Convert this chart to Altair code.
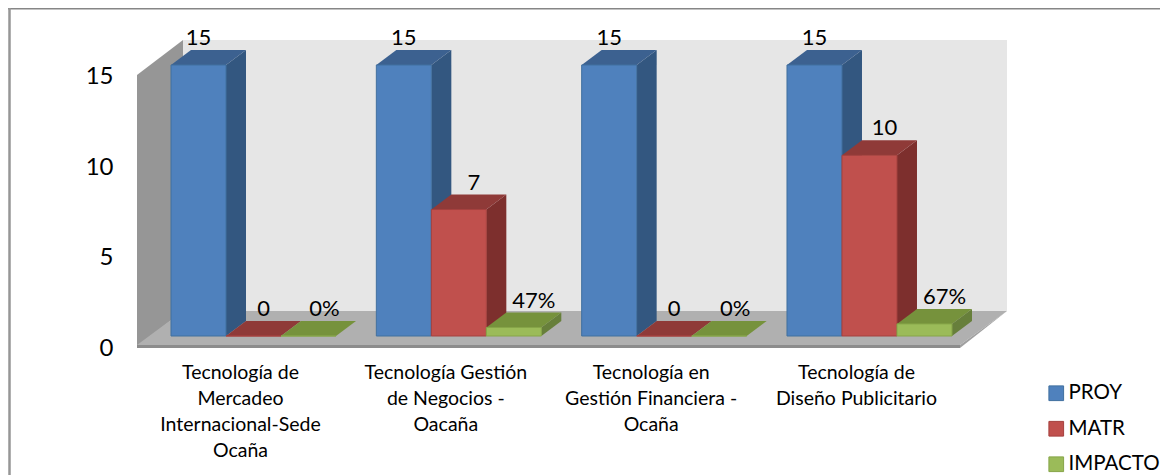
import json
import altair as alt
import pandas as pd

# ---- values ----
categories = [
    ["Tecnología de", "Mercadeo", "Internacional-Sede", "Ocaña"],
    ["Tecnología Gestión", "de Negocios -", "Oacaña"],
    ["Tecnología en", "Gestión  Financiera -", "Ocaña"],
    ["Tecnología de", "Diseño Publicitario"],
]
series = ["PROY", "MATR", "IMPACTO"]
proy = [15, 15, 15, 15]
matr = [0, 7, 0, 10]
impacto = [0, 0.47, 0, 0.67]
labels_proy = ["15", "15", "15", "15"]
labels_matr = ["0", "7", "0", "10"]
labels_impacto = ["0%", "47%", "0%", "67%"]

front = ["#4F81BD", "#C0504D", "#9BBB59"]
edge = ["#41709F", "#A5413E", "#86A548"]
side = ["#335780", "#7D2F2D", "#677F3B"]
top = ["#3C6190", "#8F3A38", "#76923C"]

# ---- layout ----
FRAME_L, FRAME_T, FRAME_R, FRAME_B = 8, 8, 1160, 475
W, H = FRAME_R - FRAME_L, FRAME_B - FRAME_T
STEP, CAT0 = 205.33, 240.0        # px per category, px of first category
UNIT, ZERO = 18.067, 336.0        # px per value unit, px of value 0
BAR, LEFT = 55 / STEP, -69 / STEP
DX, DY = 20 / STEP, 15 / UNIT


def gx(px):
    return (px - CAT0) / STEP


def gy(py):
    return (ZERO - py) / UNIT


xscale = alt.Scale(domain=[gx(FRAME_L), gx(FRAME_R)], nice=False, zero=False)
yscale = alt.Scale(domain=[gy(FRAME_B), gy(FRAME_T)], nice=False, zero=False)
FONT = "Lato"

x_axis = alt.Axis(
    values=[0, 1, 2, 3],
    labelExpr=json.dumps(categories, ensure_ascii=False) + "[datum.value]",
    domain=False, ticks=False, grid=False, tickSize=0,
    labelPadding=-112, labelFontSize=19.5, labelFont=FONT, labelColor="#000000",
    labelLineHeight=26.3, labelBaseline="top", labelOverlap=False, labelFlush=False,
)
y_axis = alt.Axis(
    values=[0, 5, 10, 15],
    domain=False, ticks=False, grid=False, tickSize=0,
    labelPadding=-105, labelFontSize=24, labelFont=FONT, labelColor="#000000",
    labelOffset=12, labelOverlap=False, labelFlush=False,
)


def X():
    return alt.X("x:Q", scale=xscale, axis=x_axis, title=None)


def Y():
    return alt.Y("y:Q", scale=yscale, axis=y_axis, title=None, stack=None)


def panel(xs, ys, y2s, color):
    df = pd.DataFrame({"x": [gx(v) for v in xs], "y": [gy(v) for v in ys], "y2": [gy(v) for v in y2s]})
    return alt.Chart(df).mark_area(color=color, orient="vertical").encode(x=X(), y=Y(), y2=alt.Y2("y2:Q"))


# ---- the 3D room ----
back_wall = panel([183, 1007], [40, 40], [311, 311], "#E6E6E6")
left_wall = panel([137, 183], [75, 40], [347, 311], "#969696")
floor = panel([137, 183, 960, 1007], [345, 311, 311, 311], [345, 345, 345, 311], "#B0B0B0")
floor_edge = panel([137, 960], [345, 345], [348, 348], "#8C8C8C")
floor_side = panel([960, 1007], [345, 311], [348, 311], "#A0A0A0")
layers = [back_wall, left_wall, floor, floor_side, floor_edge]

# ---- the chart frame: only its top and left edges show ----
frame_top = alt.Chart(pd.DataFrame({"a": [0]})).mark_rule(color="#868686", strokeWidth=1.5).encode(
    x=alt.value(0), x2=alt.value(W), y=alt.value(0.8)
)
frame_left = alt.Chart(pd.DataFrame({"a": [0]})).mark_rule(color="#969696", strokeWidth=2.5).encode(
    x=alt.value(1.5), y=alt.value(0), y2=alt.value(H)
)
layers += [frame_top, frame_left]

# ---- the bars ----
color = alt.Color(
    "series:N",
    scale=alt.Scale(domain=series, range=front),
    legend=alt.Legend(
        title=None, orient="none", legendX=1038, legendY=375, symbolType="square",
        symbolSize=216, symbolStrokeWidth=1, symbolOpacity=1, rowPadding=14.5,
        labelFont=FONT, labelFontSize=20.5, labelColor="#000000", labelOffset=2,
        labelLimit=200, symbolOffset=0,
    ),
)
stroke = alt.Stroke("series:N", scale=alt.Scale(domain=series, range=edge), legend=None)
label_shift = {"PROY": (0, 0), "MATR": (10, 15), "IMPACTO": (16, 20)}

text_rows = []
for j, (name, vals, labs) in enumerate(zip(series, [proy, matr, impacto], [labels_proy, labels_matr, labels_impacto])):
    sides, tops, fronts = [], [], []
    for i, v in enumerate(vals):
        xl = i + LEFT + j * BAR
        xr = xl + BAR
        sides += [
            {"id": i, "x": xr, "y": v, "y2": 0},
            {"id": i, "x": xr + DX, "y": v + DY, "y2": DY},
        ]
        tops += [
            {"id": i, "x": xl, "y": v, "y2": v},
            {"id": i, "x": xl + DX, "y": v + DY, "y2": v},
            {"id": i, "x": xr, "y": v + DY, "y2": v},
            {"id": i, "x": xr + DX, "y": v + DY, "y2": v + DY},
        ]
        fronts.append({"series": name, "x": xl, "x2": xr, "y": v, "y2": 0})
        shift = label_shift[name][1 if v > 0 else 0]
        text_rows.append({"x": (xl + xr) / 2 + shift / STEP, "y": v, "label": labs[i]})
    layers.append(
        alt.Chart(pd.DataFrame(sides)).mark_area(color=side[j], orient="vertical").encode(
            x=X(), y=Y(), y2=alt.Y2("y2:Q"), detail="id:N"
        )
    )
    layers.append(
        alt.Chart(pd.DataFrame(tops)).mark_area(color=top[j], orient="vertical").encode(
            x=X(), y=Y(), y2=alt.Y2("y2:Q"), detail="id:N"
        )
    )
    layers.append(
        alt.Chart(pd.DataFrame(fronts)).mark_bar(strokeWidth=1).encode(
            x=X(), x2=alt.X2("x2:Q"), y=Y(), y2=alt.Y2("y2:Q"), color=color, stroke=stroke
        )
    )

texts = alt.Chart(pd.DataFrame(text_rows)).mark_text(
    font=FONT, fontSize=22, color="#000000", dy=-27, baseline="middle", align="center"
).encode(x=X(), y=Y(), text="label:N")
layers.append(texts)

chart = (
    alt.layer(*layers)
    .properties(width=W, height=H, autosize="none", padding=0)
    .configure_view(stroke=None)
)
chart.save("out.html", embed_options={"renderer": "svg", "actions": False})
